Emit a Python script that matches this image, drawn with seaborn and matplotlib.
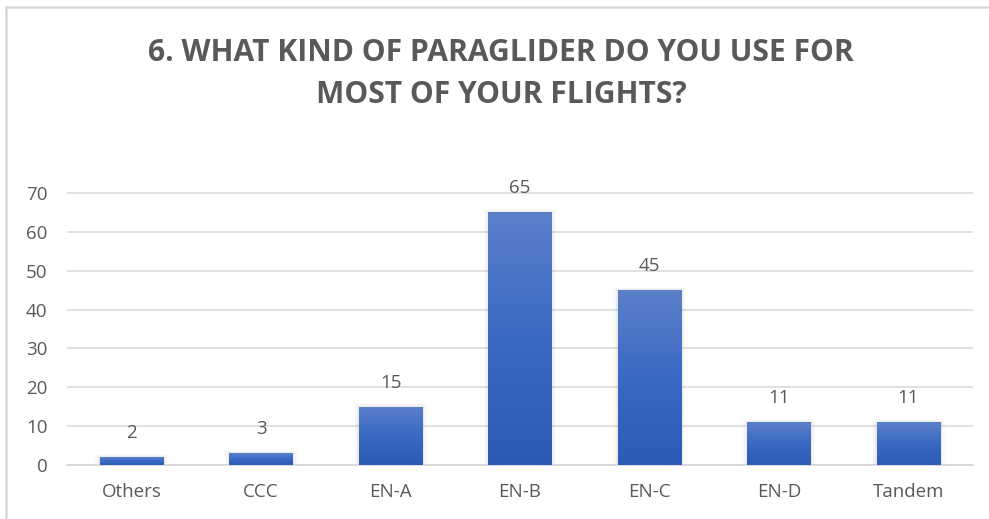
import numpy as np
import pandas as pd
import matplotlib
matplotlib.use("Agg")
import matplotlib.pyplot as plt
from matplotlib.colors import LinearSegmentedColormap
from matplotlib.lines import Line2D
import seaborn as sns

categories = ["Others", "CCC", "EN-A", "EN-B", "EN-C", "EN-D", "Tandem"]
counts = [2, 3, 15, 65, 45, 11, 11]
y_ticks = [0, 10, 20, 30, 40, 50, 60, 70]
title = "6. WHAT KIND OF PARAGLIDER DO YOU USE FOR\nMOST OF YOUR FLIGHTS?"

sns.set_theme(style="white")
plt.rcParams["font.family"] = ["Open Sans", "DejaVu Sans"]

text_grey = "#595959"
grid_grey = "#d9d9d9"

df = pd.DataFrame({"category": categories, "count": counts})

fig = plt.figure(figsize=(9.89, 5.19), dpi=100)
ax = fig.add_axes([67 / 989, 1 - 465 / 519, (973 - 67) / 989, (465 - 193) / 519 * 72 / 70])

sns.barplot(data=df, x="category", y="count", ax=ax, width=0.49,
            color="#4472c4", saturation=1, edgecolor="none", zorder=3)

ax.set_ylim(0, 72)
ax.set_xlim(-0.5, len(categories) - 0.5)
ax.set_yticks(y_ticks)
ax.yaxis.grid(True, color=grid_grey, linewidth=1.1, zorder=0)
ax.set_axisbelow(True)
for side in ["top", "right", "left"]:
    ax.spines[side].set_visible(False)
ax.spines["bottom"].set_color(grid_grey)
ax.spines["bottom"].set_linewidth(1.3)
ax.set_xlabel("")
ax.set_ylabel("")
ax.tick_params(axis="both", length=0, labelsize=13.5, labelcolor=text_grey)
ax.tick_params(axis="x", pad=13)
ax.tick_params(axis="y", pad=14)
for lbl in ax.get_yticklabels():
    lbl.set_horizontalalignment("right")

# vertical gradient fill for each bar, with a soft shadow
grad = LinearSegmentedColormap.from_list("bar", ["#2c5bb6", "#3a69c4", "#5b80c9"])
gradient = np.linspace(0, 1, 256).reshape(-1, 1)
for patch in list(ax.patches):
    x0, y0 = patch.get_x(), patch.get_y()
    w, h = patch.get_width(), patch.get_height()
    for k, a in enumerate([0.04, 0.025, 0.015]):
        d = 0.012 * (k + 1)
        ax.add_patch(plt.Rectangle((x0 - d, y0), w + 2 * d, h + d * 25,
                                   color="#000000", alpha=a, lw=0, zorder=2))
    im = ax.imshow(gradient, cmap=grad, aspect="auto", origin="lower",
                   extent=(x0, x0 + w, y0, y0 + h), zorder=4)
    im.set_clip_path(patch)
    ax.text(x0 + w / 2, h + 6.2, f"{h:g}", ha="center", va="center",
            fontsize=13.5, color=text_grey, zorder=5)

ax.set_xlim(-0.5, len(categories) - 0.5)
ax.set_ylim(0, 72)

fig.text(501 / 989, 1 - 74 / 519, title, ha="center", va="center",
         fontsize=21.6, fontweight="bold", color=text_grey, linespacing=1.5)

# chart frame (top and left edges)
fig.add_artist(Line2D([6 / 989, 1], [1 - 7 / 519, 1 - 7 / 519], transform=fig.transFigure,
                      color=grid_grey, linewidth=1.8))
fig.add_artist(Line2D([6 / 989, 6 / 989], [0, 1 - 7 / 519], transform=fig.transFigure,
                      color=grid_grey, linewidth=1.8))

fig.savefig("out.png", dpi=100, facecolor="white")
